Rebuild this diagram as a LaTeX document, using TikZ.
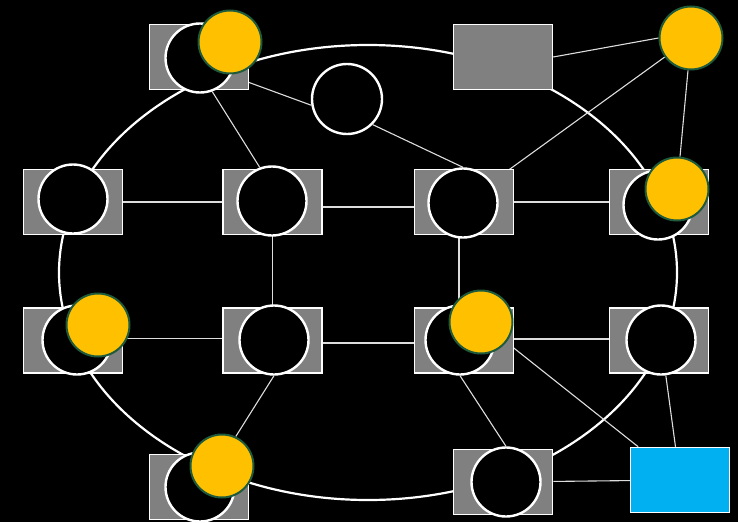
\documentclass[tikz,border=0pt]{standalone}
\pgfdeclarelayer{backdrop}
\pgfdeclarelayer{wires}
\pgfsetlayers{backdrop,wires,main}
\begin{document}
\begin{tikzpicture}[x=1pt,y=-1pt,
  graybox/.style={draw=white,line width=1.5pt,fill=boxgray,minimum width=99pt,minimum height=65pt,inner sep=0pt},
  bluebox/.style={draw=white,line width=1.5pt,fill=boxblue,minimum width=99pt,minimum height=65pt,inner sep=0pt},
  ring/.style={circle,draw=white,line width=2.4pt,fill=black,minimum size=69pt,inner sep=0pt},
  sun/.style={circle,draw=sunedge,line width=2pt,fill=sunfill,minimum size=63pt,inner sep=0pt},
  link/.style={draw=linkcol,line width=1.1pt},
  orbit/.style={draw=white,line width=2.2pt}]
\definecolor{boxgray}{HTML}{808080}
\definecolor{boxblue}{HTML}{00B0F0}
\definecolor{sunfill}{HTML}{FFC000}
\definecolor{sunedge}{HTML}{1E5A3C}
\definecolor{linkcol}{HTML}{DDDDDD}
\begin{pgfonlayer}{backdrop}
\fill[black] (0,0) rectangle (738,522);
\end{pgfonlayer}
\useasboundingbox (0,0) rectangle (738,522);
% rectangles
\node[graybox] (r1) at (199,57) {};
\node[graybox] (r3) at (503,57) {};
\node[graybox] (r5) at (73,202) {};
\node[graybox] (r6) at (272.5,202) {};
\node[graybox] (r7) at (464,202) {};
\node[graybox] (r8) at (659,202) {};
\node[graybox] (r9) at (73,340.5) {};
\node[graybox] (r10) at (272.5,340.5) {};
\node[graybox] (r11) at (464,340.5) {};
\node[graybox] (r12) at (659,340.5) {};
\node[graybox] (r13) at (199,487) {};
\node[graybox] (r14) at (503,482) {};
\node[bluebox] (r15) at (680,480) {};
% white rings
\node[ring] (c1) at (200,58) {};
\node[ring,minimum size=70pt] (c2) at (347,99) {};
\node[ring] (c5) at (73,199) {};
\node[ring] (c6) at (272,201) {};
\node[ring] (c7) at (463,203) {};
\node[ring] (c8) at (658,205) {};
\node[ring] (c9) at (77,340) {};
\node[ring] (c10) at (274,340) {};
\node[ring] (c11) at (460,340) {};
\node[ring] (c12) at (661,340) {};
\node[ring] (c13) at (200,487) {};
\node[ring] (c14) at (506,482) {};
% yellow discs
\node[sun] (y1) at (230,42) {};
\node[sun] (y4) at (691,38) {};
\node[sun] (y8) at (677,189) {};
\node[sun] (y9) at (98,325) {};
\node[sun] (y11) at (481,322) {};
\node[sun] (y13) at (222,466) {};
% ellipse and links behind the nodes
\begin{pgfonlayer}{wires}
\path[orbit] (368,272.5) ellipse [x radius=309, y radius=227.5];
\draw[link] (c1.-30) -- (c2.190);
\draw[link] (c1.-70) -- (c6.110);
\draw[link] (c2.-45) -- (c7.north);
\draw[link] (r3.east) -- (y4.west);
\draw[link] (c7) -- (y4);
\draw[link] (y4) -- (y8);
\draw[link] (r5) -- (r6);
\draw[link] ([yshift=-5pt]r6.center) -- ([yshift=-5pt]r7.center);
\draw[link] (r7) -- (r8);
\draw[link] (r6) -- (r10);
\draw[link] ([xshift=-5pt]r7.center) -- ([xshift=-5pt]r11.center);
\draw[link] ([yshift=2pt]r9.center) -- ([yshift=2pt]r10.center);
\draw[link] ([yshift=-2.5pt]r10.center) -- ([yshift=-2.5pt]r11.center);
\draw[link] ([yshift=1.5pt]r11.center) -- ([yshift=1.5pt]r12.center);
\draw[link] (c10.south) -- (y13.65);
\draw[link] (c11.south) -- (c14.north);
\draw[link] (y11) -- (r15);
\draw[link] (c12) -- (r15);
\draw[link] (r14) -- (r15);
\end{pgfonlayer}
\end{tikzpicture}
\end{document}
